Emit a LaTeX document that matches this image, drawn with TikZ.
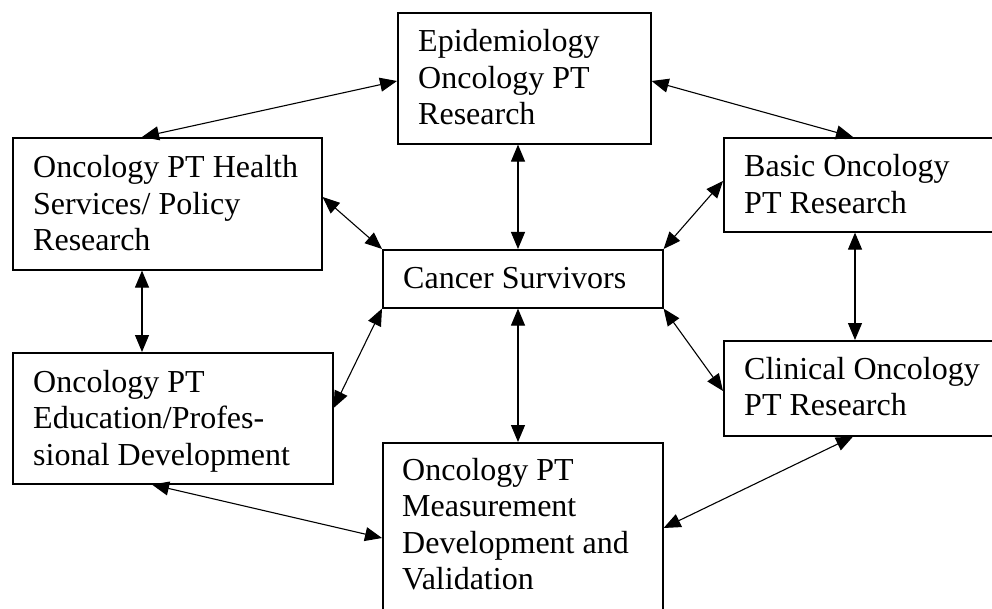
\documentclass[tikz,border=0pt]{standalone}
\usepackage{fontspec}
\setmainfont{Liberation Serif}
\usetikzlibrary{arrows.meta}
\tikzset{
  box/.style={draw, line width=1.6pt, rectangle, inner sep=0pt, anchor=north west},
  txt/.style={inner sep=0pt, anchor=base west, font=\fontsize{32pt}{36.5pt}\selectfont},
  link/.style={line width=1.1pt, {Triangle[length=17pt,width=14pt]}-{Triangle[length=17pt,width=14pt]}}
}
\begin{document}
\begin{tikzpicture}[x=1pt,y=-1pt]
\clip (0,0) rectangle (992,609);
\fill[white] (0,0) rectangle (992,609);
% boxes
\node[box, minimum width=253pt, minimum height=131pt] (epi) at (397,12) {};
\node[box, minimum width=309pt, minimum height=132pt] (health) at (12,137) {};
\node[box, minimum width=300pt, minimum height=94pt] (basic) at (723,137) {};
\node[box, minimum width=280pt, minimum height=58pt] (cancer) at (382,249) {};
\node[box, minimum width=320pt, minimum height=131pt] (edu) at (12,352) {};
\node[box, minimum width=300pt, minimum height=95pt] (clinical) at (723,340) {};
\node[box, minimum width=280pt, minimum height=190pt] (meas) at (382,442) {};
% texts
\node[txt] (epiT) at ([xshift=21pt,yshift=-40pt]epi.north west) {\begin{tabular}[t]{@{}l@{}}Epidemiology\\Oncology PT\\Research\end{tabular}};
\node[txt] (healthT) at ([xshift=21pt,yshift=-41pt]health.north west) {\begin{tabular}[t]{@{}l@{}}Oncology PT Health\\Services/ Policy\\Research\end{tabular}};
\node[txt] (basicT) at ([xshift=21pt,yshift=-40pt]basic.north west) {\begin{tabular}[t]{@{}l@{}}Basic Oncology\\PT Research\end{tabular}};
\node[txt] (cancerT) at ([xshift=21pt,yshift=-39pt]cancer.north west) {Cancer Survivors};
\node[txt] (eduT) at ([xshift=21pt,yshift=-40pt]edu.north west) {\begin{tabular}[t]{@{}l@{}}Oncology PT\\Education/Profes-\\sional Development\end{tabular}};
\node[txt] (clinicalT) at ([xshift=21pt,yshift=-39pt]clinical.north west) {\begin{tabular}[t]{@{}l@{}}Clinical Oncology\\PT Research\end{tabular}};
\node[txt] (measT) at ([xshift=20pt,yshift=-38pt]meas.north west) {\begin{tabular}[t]{@{}l@{}}Oncology PT\\Measurement\\Development and\\Validation\end{tabular}};
% connectors
\draw[link] ([xshift=130pt]health.north west) -- ([yshift=-69pt]epi.north west);
\draw[link] ([yshift=-69pt]epi.north east) -- ([xshift=130pt]basic.north west);
\draw[link] ([yshift=-60pt]health.north east) -- (cancer.north west);
\draw[link] ([xshift=121pt]epi.south west) -- ([xshift=136pt]cancer.north west);
\draw[link] (cancer.north east) -- ([yshift=-44pt]basic.north west);
\draw[link] ([xshift=130pt]health.south west) -- ([xshift=130pt]edu.north west);
\draw[link] ([xshift=132pt]basic.south west) -- ([xshift=132pt]clinical.north west);
\draw[link] (cancer.south west) -- ([yshift=-56pt]edu.north east);
\draw[link] ([xshift=136pt]cancer.south west) -- ([xshift=136pt]meas.north west);
\draw[link] (cancer.south east) -- ([yshift=-51pt]clinical.north west);
\draw[link] ([xshift=140pt]edu.south west) -- ([yshift=-96pt]meas.north west);
\draw[link] ([xshift=130pt]clinical.south west) -- ([yshift=-86pt]meas.north east);
\end{tikzpicture}
\end{document}
